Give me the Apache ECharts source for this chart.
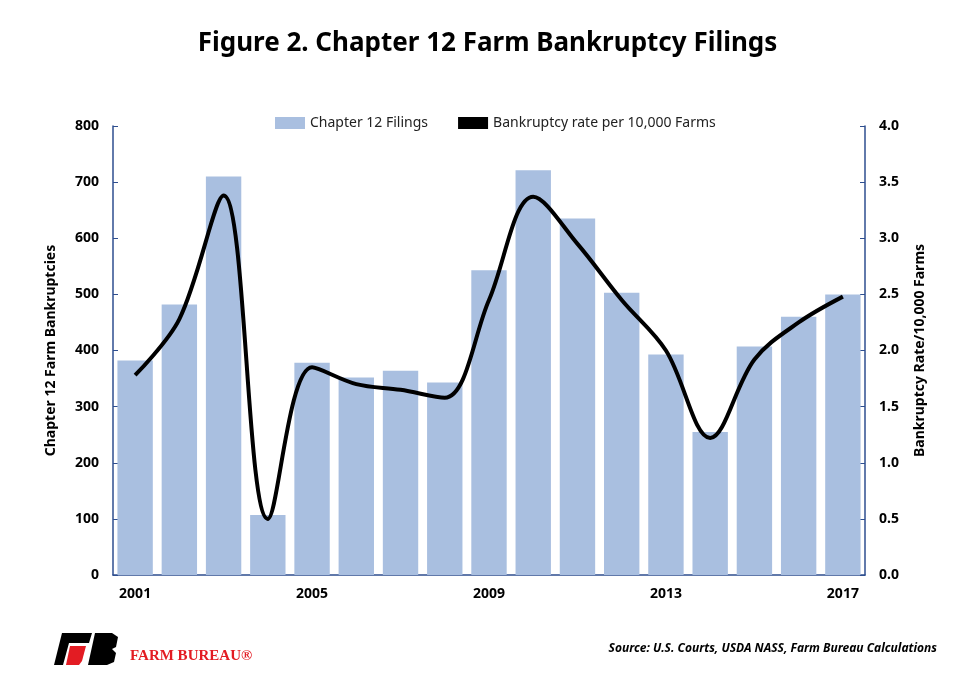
<!DOCTYPE html>
<html>
<head>
<meta charset="utf-8">
<script src="https://cdn.jsdelivr.net/npm/echarts@6/dist/echarts.min.js"></script>
<style>
  html, body { margin: 0; padding: 0; background: #fff; }
  #chart { width: 975px; height: 686px; }
</style>
</head>
<body>
<div id="chart"></div>
<script>
const years = ['2001','2002','2003','2004','2005','2006','2007','2008','2009','2010','2011','2012','2013','2014','2015','2016','2017'];
const filings = [382, 482, 710, 107, 378, 352, 364, 343, 543, 721, 635, 503, 393, 255, 407, 460, 500];
const ratePer10k = [1.78, 2.28, 3.38, 0.50, 1.85, 1.70, 1.65, 1.58, 2.45, 3.37, 2.95, 2.45, 2.00, 1.22, 1.92, 2.25, 2.48];

const chart = echarts.init(document.getElementById('chart'));
const font = '"Noto Sans", sans-serif';

chart.setOption({
  backgroundColor: '#fff',
  animation: false,
  textStyle: { fontFamily: font },
  title: {
    text: 'Figure 2. Chapter 12 Farm Bankruptcy Filings',
    left: 'center', top: 26,
    textStyle: { fontSize: 26, fontWeight: 'bold', color: '#000', fontFamily: font }
  },
  legend: {
    top: 111, left: 270, itemGap: 30,
    textStyle: { fontSize: 14, color: '#222' },
    data: [
      { name: 'Chapter 12 Filings', icon: 'rect', itemStyle: { color: '#a9bfe0' } },
      { name: 'Bankruptcy rate per 10,000 Farms', icon: 'rect', itemStyle: { color: '#000' } }
    ],
    itemWidth: 30, itemHeight: 12
  },
  grid: { left: 113, right: 110, top: 126, bottom: 111 },
  xAxis: {
    type: 'category', data: years, boundaryGap: true,
    axisLine: { lineStyle: { color: '#2e4e8f', width: 1.5 } },
    axisTick: { show: false },
    axisLabel: { interval: 3, fontSize: 14, fontWeight: 'bold', color: '#000', margin: 12 }
  },
  yAxis: [
    {
      type: 'value', min: 0, max: 800, interval: 100,
      name: 'Chapter 12 Farm Bankruptcies', nameLocation: 'middle', nameGap: 55,
      nameTextStyle: { fontSize: 14, fontWeight: 'bold', color: '#000' },
      axisLine: { show: true, lineStyle: { color: '#2e4e8f', width: 1.5 } },
      axisTick: { show: true, inside: true, lineStyle: { color: '#2e4e8f' } },
      splitLine: { show: false },
      axisLabel: { fontSize: 14, fontWeight: 'bold', color: '#000', margin: 14 }
    },
    {
      type: 'value', min: 0, max: 4, interval: 0.5,
      name: 'Bankruptcy Rate/10,000 Farms', nameLocation: 'middle', nameGap: 48, nameRotate: 90,
      nameTextStyle: { fontSize: 14, fontWeight: 'bold', color: '#000' },
      axisLine: { show: true, lineStyle: { color: '#2e4e8f', width: 1.5 } },
      axisTick: { show: true, inside: true, lineStyle: { color: '#2e4e8f' } },
      splitLine: { show: false },
      axisLabel: { fontSize: 14, fontWeight: 'bold', color: '#000', margin: 14,
        formatter: v => v.toFixed(1) }
    }
  ],
  series: [
    {
      name: 'Chapter 12 Filings', type: 'bar', data: filings,
      barCategoryGap: '20%',
      itemStyle: { color: '#a9bfe0' }
    },
    {
      name: 'Bankruptcy rate per 10,000 Farms', type: 'line', yAxisIndex: 1,
      data: ratePer10k, smooth: 0.35, symbol: 'none',
      lineStyle: { color: '#000', width: 4 }, itemStyle: { color: '#000' }
    }
  ],
  graphic: [
    { type: 'polygon', shape: { points: [[62,633],[92,633],[89,643],[69,643],[63,665],[54,665]] }, style: { fill: '#000' } },
    { type: 'polygon', shape: { points: [[70,646],[86,646],[82,661],[79,665],[66,665]] }, style: { fill: '#e31c23' } },
    { type: 'polygon', shape: { points: [[95,633],[112,633],[118,637],[116,647],[112,649],[116,653],[114,662],[107,665],[88,665]] }, style: { fill: '#000' } },
    { type: 'text', left: 130, top: 649, style: { text: 'FARM BUREAU®', font: 'bold 15px "Liberation Serif", serif', fill: '#e31c23' } },
    { type: 'text', right: 38, top: 643, style: { text: 'Source: U.S. Courts, USDA NASS, Farm Bureau Calculations', font: 'italic bold 12px "Noto Sans", sans-serif', fill: '#000' } }
  ]
});
</script>
</body>
</html>
